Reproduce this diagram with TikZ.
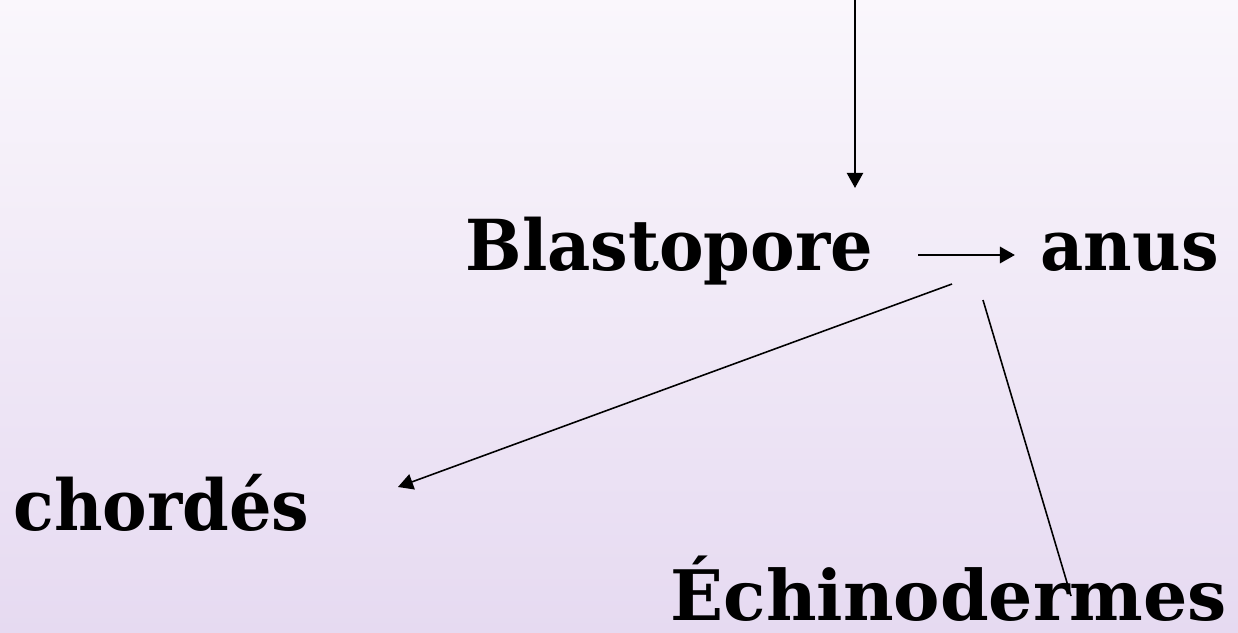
\documentclass[tikz,border=0pt]{standalone}
\usepackage{fontspec}
\setmainfont{DejaVu Serif}
\newfontfamily\narrowserif[FakeStretch=0.95]{DejaVu Serif}
\usetikzlibrary{arrows.meta}
\definecolor{bgtop}{HTML}{FAF7FC}
\definecolor{bgbot}{HTML}{E6DAF1}
\tikzset{
  lbl/.style={font=\narrowserif\fontsize{20}{24}\selectfont\bfseries, inner sep=0pt, anchor=base west},
  widelbl/.style={font=\fontsize{19.8}{24}\selectfont\bfseries, inner sep=0pt, anchor=base west},
  arr/.style={line width=0.6pt, -{Triangle[length=1.5mm,width=1.6mm]}},
  plain/.style={line width=0.45pt},
}
\begin{document}
\begin{tikzpicture}[x=0.01cm,y=-0.01cm]
  % background
  \shade[top color=bgtop, bottom color=bgbot] (0,0) rectangle (1238,633);
  \useasboundingbox (0,0) rectangle (1238,633);

  % labels
  \node[lbl] (blasto) at (465,270) {Blastopore};
  \node[lbl] (anus)   at (1040,270) {anus};
  \node[lbl] (chord)  at (13,530) {chordés};
  \node[widelbl] (echino) at (670,620) {Échinodermes};

  % connector end points
  \coordinate (top) at (855,0);
  \coordinate (vtip) at (855,188);
  \coordinate (hstart) at (918,255);
  \coordinate (htip) at (1015,255);
  \coordinate (lstart) at (952,284);
  \coordinate (ltip) at (398,487);
  \coordinate (rstart) at (983,300);
  \coordinate (rend) at (1071,596);

  % connectors
  \draw[arr] (top) -- (vtip);
  \draw[arr, line width=0.85pt] (hstart) -- (htip);
  \draw[arr, line width=0.45pt] (lstart) -- (ltip);
  \draw[plain] (rstart) -- (rend);
\end{tikzpicture}
\end{document}
